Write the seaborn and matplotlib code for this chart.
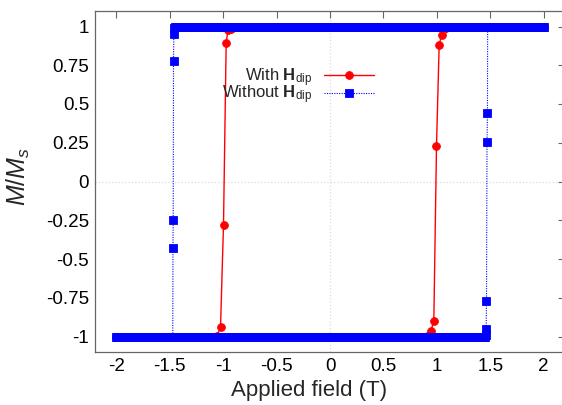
import numpy as np
import pandas as pd
import matplotlib
matplotlib.use("Agg")
import matplotlib.pyplot as plt
import seaborn as sns

# ---- data -------------------------------------------------------------
# Field sweep limits and step for the saturated plateaus (T)
field_max = 2.0
sweep_step = 0.01

# With dipolar field: points around the switching fields (T, M/Ms)
dip_down_field = [-0.60, -0.80, -0.93, -0.955, -0.972, -0.997, -1.025, -1.06]
dip_down_m = [1.000, 0.995, 0.985, 0.977, 0.895, -0.28, -0.94, -0.998]
dip_up_field = [0.84, 0.944, 0.972, 0.997, 1.022, 1.044, 1.19]
dip_up_m = [-1.0, -0.965, -0.90, 0.23, 0.88, 0.944, 0.998]

# Without dipolar field: points around the switching fields (T, M/Ms)
nodip_down_field = [-1.460, -1.462, -1.465, -1.468, -1.470, -1.472]
nodip_down_m = [0.99, 0.95, 0.78, -0.25, -0.43, -1.0]
nodip_up_field = [1.460, 1.462, 1.465, 1.470, 1.474, 1.476]
nodip_up_m = [-0.99, -0.95, -0.773, 0.256, 0.44, 1.0]

# Saturation value on both plateaus
m_sat = 1.0

x_ticks = [-2, -1.5, -1, -0.5, 0, 0.5, 1, 1.5, 2]
x_tick_labels = ["-2", "-1.5", "-1", "-0.5", "0", "0.5", "1", "1.5", "2"]
y_ticks = [-1, -0.75, -0.5, -0.25, 0, 0.25, 0.5, 0.75, 1]
y_tick_labels = ["-1", "-0.75", "-0.5", "-0.25", "0", "0.25", "0.5", "0.75", "1"]


def hysteresis_loop(down_field, down_m, up_field, up_m):
    """Full loop: sweep from +max down to -max, then back up."""
    top_a = np.arange(field_max, down_field[0], -sweep_step)
    bot_a = np.arange(down_field[-1] - sweep_step, -field_max - 1e-9, -sweep_step)
    bot_b = np.arange(-field_max, up_field[0], sweep_step)
    top_b = np.arange(up_field[-1] + sweep_step, field_max + 1e-9, sweep_step)
    field = np.concatenate([top_a, down_field, bot_a, bot_b, up_field, top_b])
    m = np.concatenate([
        np.full(top_a.size, m_sat), down_m, np.full(bot_a.size, -m_sat),
        np.full(bot_b.size, -m_sat), up_m, np.full(top_b.size, m_sat),
    ])
    return pd.DataFrame({"field": field, "m": m})


with_dip = hysteresis_loop(dip_down_field, dip_down_m, dip_up_field, dip_up_m)
without_dip = hysteresis_loop(nodip_down_field, nodip_down_m,
                              nodip_up_field, nodip_up_m)

# ---- style ------------------------------------------------------------
sns.set_style("white")
plt.rcParams["font.family"] = ["Liberation Sans", "DejaVu Sans"]
plt.rcParams["mathtext.fontset"] = "custom"
plt.rcParams["mathtext.rm"] = "Liberation Sans"
plt.rcParams["mathtext.it"] = "Liberation Sans:italic"
plt.rcParams["mathtext.bf"] = "Liberation Sans:bold"

fig = plt.figure(figsize=(5.62, 4.05), dpi=100)
ax = fig.add_axes([95 / 562, 53 / 405, 470 / 562, 341 / 405])

# zero axes
ax.axhline(0, color="#dcdcdc", lw=0.9, ls=":", zorder=0)
ax.axvline(0, color="#dcdcdc", lw=0.9, ls=":", zorder=0)

sns.lineplot(data=with_dip, x="field", y="m", sort=False, estimator=None,
             ax=ax, color="#ff0000", lw=1.0, marker="o", markersize=5.6,
             markeredgecolor="#ff0000", markeredgewidth=0.6,
             label=r"With $\mathbf{H}_{\mathrm{dip}}$", zorder=2)
sns.lineplot(data=without_dip, x="field", y="m", sort=False, estimator=None,
             ax=ax, color="#0000ff", lw=0.8, ls=(0, (1, 1.2)), marker="s",
             markersize=5.6, markeredgecolor="#0000ff", markeredgewidth=0.6,
             label=r"Without $\mathbf{H}_{\mathrm{dip}}$", zorder=3)

ax.set_xlim(-2.2, 2.2)
ax.set_ylim(-1.1, 1.1)
ax.set_xticks(x_ticks, x_tick_labels)
ax.set_yticks(y_ticks, y_tick_labels)
ax.tick_params(direction="in", length=5, width=0.8, color="#666666",
               top=True, right=True, labelsize=13.5, pad=4.3,
               labelcolor="black")
for sp in ax.spines.values():
    sp.set_color("#666666")
    sp.set_linewidth(0.9)

ax.set_xlabel("Applied field (T)", fontsize=16)
ax.set_ylabel(r"$M/M_s$", fontsize=18)
ax.xaxis.set_label_coords(0.455, -0.113)
ax.xaxis.label.set_va("center")
ax.yaxis.set_label_coords(-0.163, 0.515)
ax.yaxis.label.set_va("center")

leg = ax.legend(loc="upper right", bbox_to_anchor=(0.594, 0.838),
                frameon=False, markerfirst=False, fontsize=12,
                handlelength=3.0, handletextpad=0.7, labelspacing=-0.3,
                borderpad=0, borderaxespad=0)

fig.savefig("out.png", dpi=100)
